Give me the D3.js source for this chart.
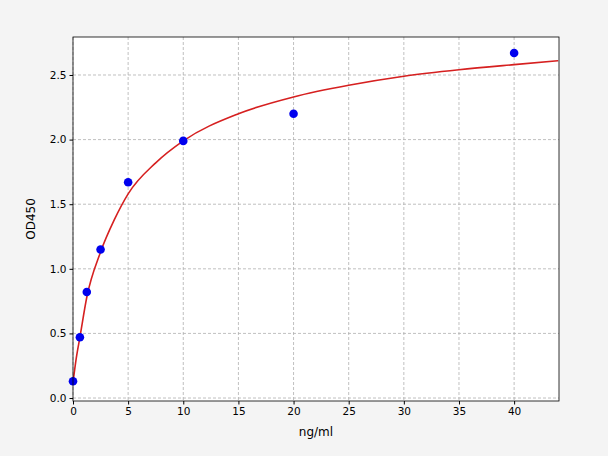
<!DOCTYPE html>
<html><head><meta charset="utf-8">
<script src="https://cdn.jsdelivr.net/npm/d3@7"></script>
<style>body{margin:0;background:#f4f4f4}svg{display:block}</style>
</head><body><svg id="c" width="608" height="456"></svg>
<script>
const pointX=[0,0.625,1.25,2.5,5,10,20,40];
const pointY=[0.13,0.47,0.82,1.15,1.67,1.99,2.20,2.67];
const curveX=[0,0.3,0.625,1.25,2.5,3.75,5,7.5,10,15,20,25,30,35,40,44];
const curveY=[0.12,0.31,0.47,0.78,1.13,1.38,1.58,1.82,1.99,2.2,2.33,2.42,2.49,2.54,2.58,2.61];
const xTicks=[0,5,10,15,20,25,30,35,40];
const yTicks=[0,0.5,1.0,1.5,2.0,2.5];
const svg=d3.select("#c");
const L=73,R=559,T=37,B=401;
const x=d3.scaleLinear().domain([0,44.07]).range([L,R]);
const y=d3.scaleLinear().domain([-0.023,2.794]).range([B,T]);
svg.append("rect").attr("x",L).attr("y",T).attr("width",R-L).attr("height",B-T).attr("fill","#fff");
const g=svg.append("g");
xTicks.forEach(t=>g.append("line").attr("x1",x(t)).attr("x2",x(t)).attr("y1",T).attr("y2",B).attr("stroke","#b0b0b0").attr("stroke-dasharray","3,2").attr("stroke-width",0.8));
yTicks.forEach(t=>g.append("line").attr("y1",y(t)).attr("y2",y(t)).attr("x1",L).attr("x2",R).attr("stroke","#b0b0b0").attr("stroke-dasharray","3,2").attr("stroke-width",0.8));
const xa=svg.append("g").attr("transform",`translate(0,${B})`).call(d3.axisBottom(x).tickValues(xTicks).tickFormat(d3.format("d")).tickSize(3.5).tickPadding(3));
const ya=svg.append("g").attr("transform",`translate(${L},0)`).call(d3.axisLeft(y).tickValues(yTicks).tickFormat(d3.format(".1f")).tickSize(3.5).tickPadding(3));
[xa,ya].forEach(a=>{a.select(".domain").remove();a.selectAll("text").attr("font-family","DejaVu Sans").attr("font-size",10.5).attr("fill","#000");a.selectAll("line").attr("stroke","#000");});
const line=d3.line().x((d,i)=>x(curveX[i])).y(d=>y(d)).curve(d3.curveMonotoneX);
svg.append("path").attr("d",line(curveY)).attr("fill","none").attr("stroke","#d62020").attr("stroke-width",1.6);
svg.selectAll("circle").data(pointX).join("circle").attr("cx",d=>x(d)).attr("cy",(d,i)=>y(pointY[i])).attr("r",4.3).attr("fill","#0000ee");
svg.append("rect").attr("x",L).attr("y",T).attr("width",R-L).attr("height",B-T).attr("fill","none").attr("stroke","#000").attr("stroke-width",0.8);
svg.append("text").attr("x",(L+R)/2).attr("y",436).attr("text-anchor","middle").attr("font-family","DejaVu Sans").attr("font-size",12).text("ng/ml");
svg.append("text").attr("transform",`translate(35,${(T+B)/2}) rotate(-90)`).attr("text-anchor","middle").attr("font-family","DejaVu Sans").attr("font-size",12).text("OD450");
</script></body></html>
